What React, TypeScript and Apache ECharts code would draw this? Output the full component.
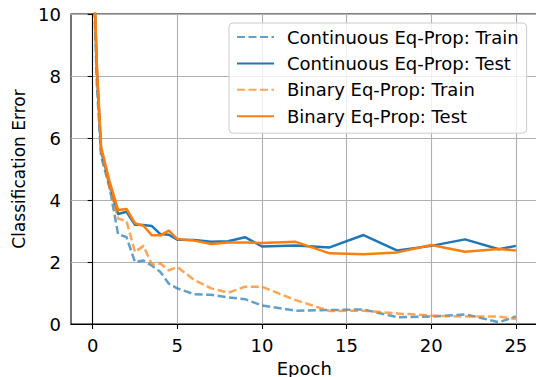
import React, { useEffect, useRef } from "react";
import * as echarts from "echarts";

const epochs = [0, 0.25, 0.5, 1, 1.5, 2, 2.5, 3, 3.5, 4, 4.5, 5, 6, 7, 8, 9, 10, 12, 14, 16, 18, 20, 22, 24, 25];
const contTrain = [12.0, 7.7, 5.4, 4.4, 2.9, 2.8, 2.0, 2.05, 1.88, 1.68, 1.3, 1.15, 0.96, 0.94, 0.86, 0.8, 0.6, 0.43, 0.45, 0.47, 0.22, 0.24, 0.31, 0.06, 0.24];
const contTest = [12.6, 8.2, 5.6, 4.5, 3.55, 3.62, 3.2, 3.19, 3.16, 2.9, 2.88, 2.72, 2.71, 2.65, 2.67, 2.8, 2.5, 2.53, 2.47, 2.87, 2.37, 2.52, 2.73, 2.41, 2.52];
const binTrain = [12.3, 8.0, 5.6, 4.4, 3.4, 3.32, 2.32, 2.52, 1.92, 1.95, 1.73, 1.84, 1.42, 1.15, 1.01, 1.2, 1.2, 0.77, 0.42, 0.43, 0.34, 0.27, 0.24, 0.24, 0.16];
const binTest = [12.6, 8.3, 5.7, 4.6, 3.68, 3.71, 3.25, 3.17, 2.86, 2.86, 3.01, 2.74, 2.69, 2.58, 2.63, 2.63, 2.61, 2.65, 2.28, 2.25, 2.31, 2.55, 2.33, 2.42, 2.37];

const seriesNames = [
  "Continuous Eq-Prop: Train",
  "Continuous Eq-Prop: Test",
  "Binary Eq-Prop: Train",
  "Binary Eq-Prop: Test",
];
const xLabel = "Epoch";
const yLabel = "Classification Error";

const BLUE = "#1f77b4";
const ORANGE = "#ff7f0e";
const FONT = "DejaVu Sans";
const FS = 18;

export default function App() {
  const ref = useRef<HTMLDivElement>(null);
  useEffect(() => {
    document.body.style.margin = "0";
    const chart = echarts.init(ref.current!, null, { renderer: "svg" });
    const mk = (name: string, ys: number[], color: string, dashed: boolean, z: number) => ({
      name,
      type: "line",
      xAxisIndex: 0,
      yAxisIndex: 0,
      data: epochs.map((x, i) => [x, ys[i]]),
      symbol: "none",
      clip: true,
      z,
      lineStyle: {
        color,
        width: 2.5,
        type: dashed ? [8, 3.5] : "solid",
        opacity: dashed ? 0.7 : 1,
        cap: "butt",
        join: "round",
      },
      itemStyle: { color, opacity: dashed ? 0.7 : 1 },
      emphasis: { disabled: true },
    });
    const axisColor = "#000";
    chart.setOption({
      animation: false,
      textStyle: { fontFamily: FONT },
      grid: [
        { left: 71, top: 14, width: 466, height: 310, show: true, borderColor: "#000", borderWidth: 1.1, backgroundColor: "transparent", outerBoundsMode: "none", containLabel: false },
        { left: 71 + 1.28 * (466 / 27.53), top: 14, width: 25 * (466 / 27.53), height: 310, show: false, outerBoundsMode: "none", containLabel: false },
      ],
      xAxis: [
        {
          gridIndex: 0, type: "value", min: -1.28, max: 26.25,
          axisLine: { show: true, lineStyle: { color: axisColor, width: 1.1 } },
          axisTick: { show: false }, axisLabel: { show: false }, splitLine: { show: false },
        },
        {
          gridIndex: 1, type: "value", min: 0, max: 25, interval: 5,
          axisLine: { show: false },
          axisTick: { show: true, length: 5, lineStyle: { color: axisColor, width: 1.1 } },
          axisLabel: { color: "#000", fontSize: FS, fontFamily: FONT, margin: 12 },
          splitLine: { show: true, lineStyle: { color: "#b0b0b0", width: 1.1 } },
          name: xLabel, nameLocation: "middle", nameGap: 35,
          nameTextStyle: { color: "#000", fontSize: FS, fontFamily: FONT },
        },
      ],
      yAxis: [
        {
          gridIndex: 0, type: "value", min: 0, max: 10, interval: 2,
          axisLine: { show: true, lineStyle: { color: axisColor, width: 1.1 } },
          axisTick: { show: true, length: 5, lineStyle: { color: axisColor, width: 1.1 } },
          axisLabel: { color: "#000", fontSize: FS, fontFamily: FONT, margin: 10 },
          splitLine: { show: true, lineStyle: { color: "#b0b0b0", width: 1.1 } },
          name: yLabel, nameLocation: "middle", nameGap: 40,
          nameTextStyle: { color: "#000", fontSize: 17, fontFamily: FONT },
        },
        { gridIndex: 1, type: "value", min: 0, max: 10, show: false },
      ],
      legend: {
        orient: "vertical",
        left: 229,
        top: 23,
        padding: [5, 8, 8, 7],
        itemWidth: 37,
        itemHeight: 18,
        itemGap: 8.4,
        backgroundColor: "rgba(255,255,255,0.8)",
        borderColor: "#cccccc",
        borderWidth: 1,
        borderRadius: 4,
        itemStyle: { opacity: 0 },
        textStyle: { color: "#000", fontSize: FS, fontFamily: FONT, lineHeight: 18, padding: [0, 0, 0, 8] },
        data: seriesNames,
      },
      series: [
        mk(seriesNames[0], contTrain, BLUE, true, 2),
        mk(seriesNames[1], contTest, BLUE, false, 3),
        mk(seriesNames[2], binTrain, ORANGE, true, 4),
        mk(seriesNames[3], binTest, ORANGE, false, 5),
      ],
    });
    return () => chart.dispose();
  }, []);
  return <div ref={ref} style={{ width: 536, height: 377 }} />;
}
